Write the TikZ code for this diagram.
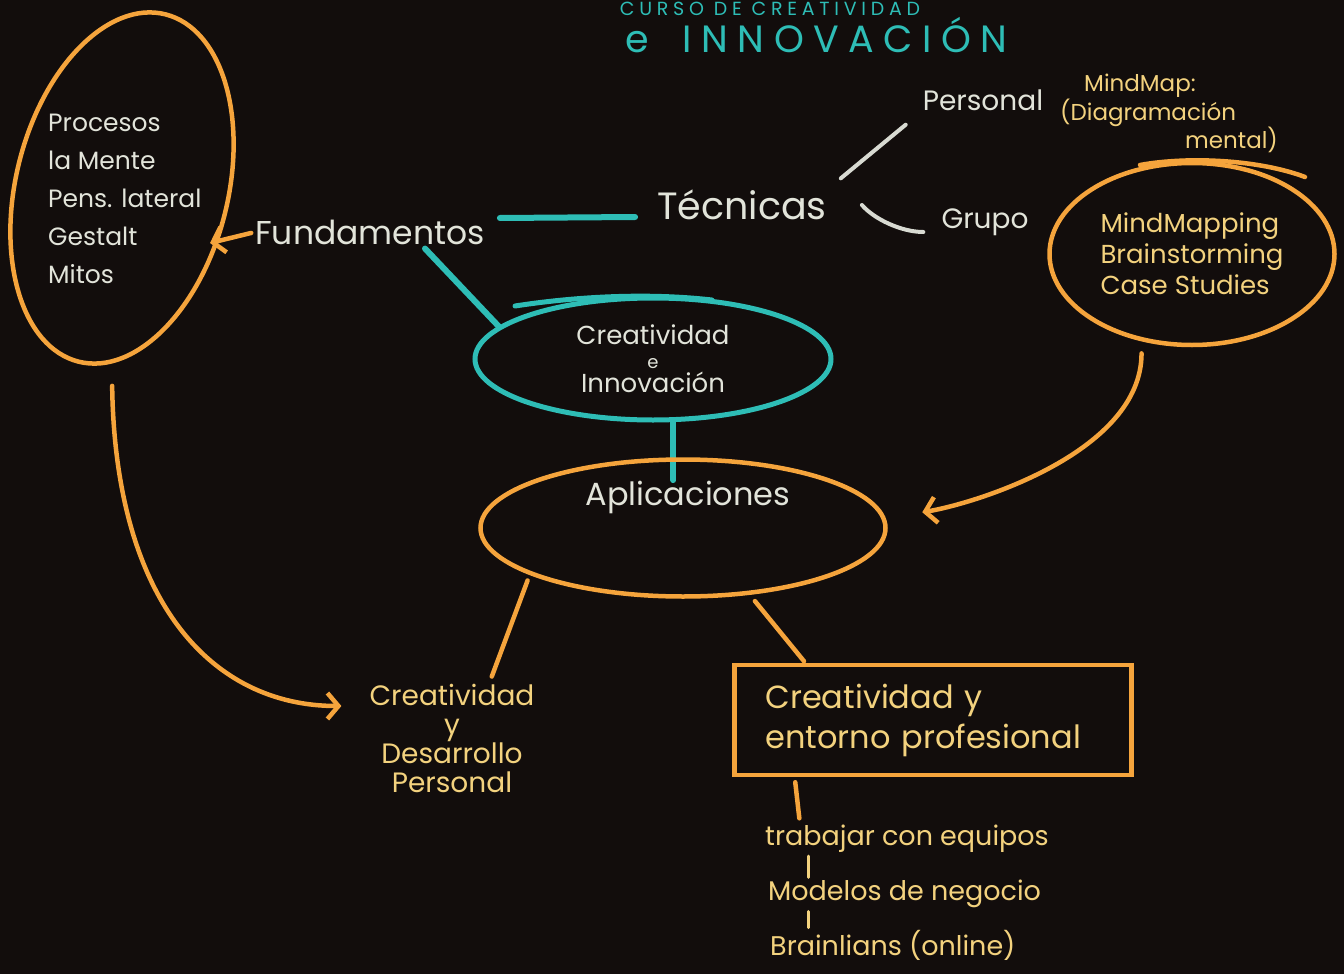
\documentclass[tikz,border=0pt]{standalone}
\usepackage{fontspec}
\setmainfont{Poppins}
\newfontfamily\hand{Poppins}
\newfontfamily\titlef{Poppins}[LetterSpace=25]
\usetikzlibrary{arrows.meta,calc,shapes.geometric}
\definecolor{bg}{HTML}{120D0C}
\definecolor{orng}{HTML}{F5A43C}
\definecolor{tealc}{HTML}{2EBDB6}
\definecolor{wtext}{HTML}{E2E4DA}
\definecolor{wline}{HTML}{D8DAD2}
\definecolor{ytext}{HTML}{F3D27E}
\newcommand\hfs[2]{\hand\fontsize{#1}{#2}\selectfont}
\tikzset{
  wt/.style={text=wtext, inner sep=0pt},
  yt/.style={text=ytext, inner sep=0pt},
  ol/.style={draw=orng, line width=4.5pt, line cap=round},
  tl/.style={draw=tealc, line width=6pt, line cap=round},
  wl/.style={draw=wline, line width=4pt, line cap=round},
  yl/.style={draw=ytext, line width=3pt, line cap=round},
  tipb/.style={-{Straight Barb[length=11pt,width=26pt]}},
  oval/.style={ellipse, inner sep=0pt},
}
\begin{document}
\begin{tikzpicture}[x=1pt,y=-1pt]
\fill[bg] (0,0) rectangle (1344,974);
\useasboundingbox (0,0) rectangle (1344,974);
% title
\node[text=tealc, inner sep=0pt, font=\titlef\fontsize{19}{19}\selectfont, anchor=base] (t1) at (770,16) {CURSO DE CREATIVIDAD};
\node[text=tealc, inner sep=0pt, font=\titlef\fontsize{38}{38}\selectfont, anchor=base west] (t2) at (625,53) {e\hspace{34pt}INNOVACIÓN};

% left ellipse
\node[oval, ol, minimum width=212pt, minimum height=358pt, rotate=-14] (leftell) at (122,188) {};
\node[wt, font=\hfs{25}{38}, align=left, anchor=north west] (ment) at (48,114) {Procesos\\la Mente\\Pens. lateral\\Gestalt\\Mitos};

% Fundamentos / Tecnicas
\node[wt, font=\hfs{33}{40}] (fund) at (370,232) {Fundamentos};
\coordinate (fa) at (210,243);
\draw[ol, tipb, shorten <=4pt] (fund.west) -- (fa);
\node[wt, font=\hfs{38}{44}] (tec) at (742,205) {Técnicas};
\draw[tl] ($(fund.east)+(15,-14)$) -- ($(tec.west)+(-22,12)$);
\node[wt, font=\hfs{28}{34}] (pers) at (983,100) {Personal};
\node[wt, font=\hfs{28}{34}] (grupo) at (985,222) {Grupo};
\draw[wl, shorten <=18pt, shorten >=22pt] (tec.north east) -- (pers.south west);
\draw[wl] ($(tec.east)+(35,0)$) .. controls +(12,14) and +(-22,0) .. ($(grupo.west)+(-18,10)$);

% MindMap note
\node[yt, font=\hfs{23}{19}, align=left, anchor=north west] (mm) at (1060,74) {\hspace*{24pt}MindMap:\\(Diagramación\\\hspace*{125pt}mental)};

% right ellipse
\node[oval, ol, minimum width=285pt, minimum height=182pt, yt, font=\hfs{26}{31}, align=left] (rell) at (1192,254) {MindMapping\\Brainstorming\\Case Studies};
\draw[ol] (1140,165) .. controls (1190,156) and (1260,160) .. (1305,177);

% central teal ellipse
\node[oval, draw=tealc, line width=5pt, minimum width=356pt, minimum height=122pt, wt, font=\hfs{26}{24}, align=center] (ci) at (653,359) {\lineskiplimit=-50pt Creatividad\\{\hfs{18}{24}e}\\Innovación};
\draw[tl, line width=5pt] (515,306) .. controls (580,296) and (650,293) .. (712,300);
\draw[tl] ($(fund.south)+(55,4)$) -- (ci.168);
\draw[tl] (ci.-72) -- ++(0,58);

% Aplicaciones
\node[oval, ol, minimum width=405pt, minimum height=137pt, label={[name=apltext, wt, font=\hfs{32}{36}, yshift=31pt, xshift=5pt]center:Aplicaciones}] (apl) at (683,528) {};
\draw[ol, tipb, shorten <=12pt, shorten >=35pt] (rell.240) .. controls +(0,110) and +(90,-15) .. ($(apl.east)+(0,-10)$);

% Creatividad y Desarrollo Personal
\node[yt, font=\hfs{28}{29}, align=center, anchor=north] (cdp) at (452,684) {Creatividad\\y\\Desarrollo\\Personal};
\draw[ol, shorten <=6pt, shorten >=8pt] (apl.197) -- ([xshift=37pt]cdp.north);
\draw[ol, tipb] ($(leftell.south)+(34,22)$) .. controls +(3,215) and +(-130,0) .. ($(cdp.north west)+(-28,22)$);

% box
\node[draw=orng, line width=4.5pt, minimum width=397pt, minimum height=110pt, yt, font=\hfs{32}{40}, align=left, text width=335pt] (box) at (933,720) {Creatividad y\\entorno profesional};
\draw[ol, shorten <=8pt, shorten >=2pt] (apl.-45) -- ($(box.north west)+(73,0)$);

% list
\node[yt, font=\hfs{27}{30}, anchor=base west] (tr1) at (765,845) {trabajar con equipos};
\node[yt, font=\hfs{27}{30}, anchor=base west] (tr2) at (768,900) {Modelos de negocio};
\node[yt, font=\hfs{27}{30}, anchor=base west] (tr3) at (770,955) {Brainlians (online)};
\draw[ol, shorten >=6pt] ($(box.south west)+(63,5)$) -- ($(tr1.north west)+(35,0)$);
\draw[yl] ($(tr1.south west)+(43,4)$) -- ($(tr2.north west)+(40,-2)$);
\draw[yl] ($(tr2.south west)+(40,4)$) -- ($(tr3.north west)+(38,-2)$);
\end{tikzpicture}
\end{document}
